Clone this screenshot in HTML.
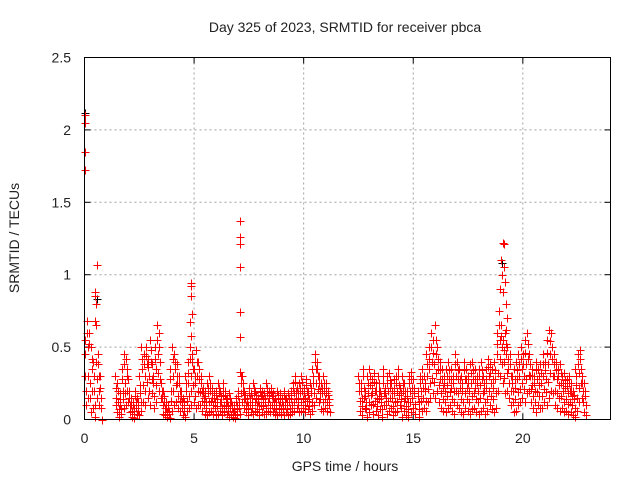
<!DOCTYPE html>
<html><head><meta charset="utf-8"><style>
html,body{margin:0;padding:0;background:#fff}
svg{display:block}
text{font-family:"Liberation Sans",sans-serif;font-size:14px;fill:#222}
</style></head><body>
<svg id="chart" width="640" height="480" viewBox="0 0 640 480">
<text x="345" y="32" text-anchor="middle">Day 325 of 2023, SRMTID for receiver pbca</text>
<text x="345" y="471" text-anchor="middle">GPS time / hours</text>
<text transform="translate(19,238) rotate(-90)" text-anchor="middle">SRMTID / TECUs</text>
<g id="grid"></g>
<g id="ticks"></g>
<g id="marks"></g>
<rect x="84.5" y="57.5" width="526" height="362" fill="none" stroke="#000" stroke-width="1"/>
</svg>
<script>
const xTicks=[0,5,10,15,20];
const yTicks=[0,0.5,1,1.5,2,2.5];
const yTickLabels=["0","0.5","1","1.5","2","2.5"];
const times=[0.0,0.1,0.2,0.3,0.4,0.5,0.6,0.7,
1.4,1.5,1.6,1.7,1.8,1.9,2.0,2.1,2.2,2.3,2.4,2.5,2.6,2.7,2.8,2.9,3.0,3.1,3.2,3.3,3.4,3.5,3.6,3.7,3.8,3.9,4.0,4.1,4.2,4.3,4.4,4.5,4.6,4.7,4.8,4.9,5.0,5.1,5.2,5.3,5.4,5.5,5.6,5.7,5.8,5.9,6.0,6.1,6.2,6.3,6.4,6.5,6.6,6.7,6.8,6.9,7.0,7.1,7.2,7.3,7.4,7.5,7.6,7.7,7.8,7.9,8.0,8.1,8.2,8.3,8.4,8.5,8.6,8.7,8.8,8.9,9.0,9.1,9.2,9.3,9.4,9.5,9.6,9.7,9.8,9.9,10.0,10.1,10.2,10.3,10.4,10.5,10.6,10.7,10.8,10.9,11.0,11.1,
12.5,12.6,12.7,12.8,12.9,13.0,13.1,13.2,13.3,13.4,13.5,13.6,13.7,13.8,13.9,14.0,14.1,14.2,14.3,14.4,14.5,14.6,14.7,14.8,14.9,15.0,
15.2,15.3,15.4,15.5,15.6,15.7,15.8,15.9,16.0,16.1,16.2,16.3,16.4,16.5,16.6,16.7,16.8,16.9,17.0,17.1,17.2,17.3,17.4,17.5,17.6,17.7,17.8,17.9,18.0,18.1,18.2,18.3,18.4,18.5,18.6,18.7,18.8,18.9,19.0,19.1,19.2,19.3,19.4,19.5,19.6,19.7,19.8,19.9,20.0,20.1,20.2,20.3,20.4,20.5,20.6,20.7,20.8,20.9,21.0,21.1,21.2,21.3,21.4,21.5,21.6,21.7,21.8,21.9,22.0,22.1,22.2,22.3,22.4,22.5,22.6,22.7,22.8];
const valuesHigh=[0.55,0.68,0.6,0.5,0.4,0.85,0.45,0.3,
0.3,0.25,0.18,0.35,0.45,0.42,0.28,0.15,0.12,0.2,0.15,0.3,0.5,0.45,0.5,0.42,0.55,0.38,0.5,0.65,0.6,0.25,0.2,0.12,0.1,0.35,0.5,0.45,0.38,0.3,0.2,0.15,0.3,0.4,0.5,0.45,0.35,0.48,0.4,0.3,0.22,0.2,0.25,0.3,0.22,0.18,0.2,0.25,0.2,0.25,0.2,0.15,0.18,0.12,0.1,0.15,0.2,0.33,0.3,0.2,0.15,0.22,0.18,0.25,0.2,0.15,0.22,0.2,0.18,0.25,0.2,0.22,0.18,0.15,0.2,0.18,0.15,0.2,0.15,0.18,0.2,0.25,0.3,0.22,0.25,0.3,0.22,0.28,0.2,0.25,0.35,0.45,0.4,0.3,0.25,0.3,0.25,0.2,
0.3,0.25,0.35,0.2,0.3,0.35,0.28,0.32,0.25,0.3,0.2,0.35,0.22,0.3,0.32,0.25,0.28,0.3,0.35,0.22,0.3,0.25,0.2,0.3,0.33,0.28,
0.2,0.3,0.35,0.3,0.45,0.5,0.6,0.55,0.65,0.5,0.4,0.35,0.3,0.35,0.4,0.35,0.3,0.45,0.4,0.35,0.3,0.4,0.35,0.3,0.38,0.4,0.35,0.3,0.35,0.4,0.3,0.35,0.42,0.38,0.35,0.4,0.6,0.75,0.65,0.55,0.6,0.5,0.45,0.3,0.35,0.4,0.45,0.5,0.45,0.55,0.6,0.45,0.35,0.3,0.4,0.35,0.38,0.45,0.4,0.55,0.62,0.6,0.45,0.4,0.35,0.38,0.3,0.32,0.28,0.3,0.25,0.2,0.35,0.45,0.48,0.3,0.25];
const valuesUpperMid=[0.45,0.6,0.52,0.42,0.3,0.65,0.38,0.22,
0.22,0.2,0.14,0.28,0.38,0.35,0.2,0.12,0.1,0.16,0.12,0.24,0.42,0.38,0.44,0.36,0.48,0.3,0.42,0.55,0.5,0.2,0.16,0.1,0.08,0.28,0.42,0.4,0.3,0.25,0.16,0.12,0.25,0.32,0.42,0.4,0.3,0.4,0.35,0.25,0.18,0.16,0.22,0.25,0.18,0.15,0.17,0.22,0.16,0.2,0.17,0.12,0.15,0.1,0.08,0.12,0.16,0.3,0.25,0.17,0.12,0.18,0.15,0.22,0.17,0.12,0.19,0.17,0.15,0.22,0.17,0.19,0.15,0.12,0.17,0.15,0.12,0.17,0.12,0.15,0.17,0.22,0.26,0.18,0.22,0.26,0.18,0.24,0.17,0.22,0.3,0.4,0.35,0.25,0.22,0.25,0.22,0.17,
0.25,0.2,0.3,0.16,0.25,0.3,0.22,0.26,0.2,0.25,0.16,0.3,0.18,0.25,0.27,0.2,0.22,0.25,0.3,0.18,0.25,0.2,0.16,0.25,0.28,0.22,
0.16,0.25,0.28,0.25,0.38,0.42,0.5,0.46,0.55,0.42,0.34,0.28,0.25,0.3,0.34,0.28,0.25,0.38,0.34,0.28,0.25,0.34,0.28,0.25,0.32,0.34,0.28,0.25,0.3,0.34,0.25,0.28,0.36,0.32,0.28,0.34,0.52,0.65,0.58,0.48,0.52,0.42,0.38,0.25,0.28,0.34,0.38,0.42,0.38,0.46,0.52,0.38,0.3,0.25,0.34,0.3,0.32,0.38,0.34,0.46,0.54,0.5,0.38,0.34,0.3,0.32,0.25,0.27,0.23,0.25,0.2,0.17,0.3,0.38,0.42,0.25,0.2];
const valuesMid=[0.3,0.5,0.25,0.35,0.2,0.4,0.3,0.15,
0.15,0.12,0.1,0.2,0.25,0.3,0.15,0.1,0.08,0.12,0.1,0.18,0.35,0.3,0.38,0.3,0.4,0.25,0.35,0.45,0.4,0.15,0.12,0.08,0.06,0.2,0.3,0.35,0.25,0.2,0.12,0.1,0.2,0.25,0.3,0.35,0.25,0.3,0.28,0.2,0.15,0.12,0.18,0.2,0.15,0.12,0.14,0.18,0.12,0.16,0.14,0.1,0.12,0.08,0.06,0.1,0.12,0.25,0.2,0.14,0.1,0.15,0.12,0.18,0.14,0.1,0.16,0.14,0.12,0.18,0.15,0.16,0.12,0.1,0.14,0.12,0.1,0.14,0.1,0.12,0.14,0.18,0.2,0.15,0.18,0.2,0.15,0.2,0.14,0.18,0.25,0.35,0.3,0.2,0.18,0.2,0.18,0.14,
0.2,0.15,0.22,0.12,0.18,0.24,0.18,0.2,0.15,0.2,0.12,0.25,0.15,0.2,0.22,0.15,0.18,0.2,0.24,0.14,0.2,0.15,0.12,0.2,0.22,0.18,
0.12,0.2,0.22,0.2,0.3,0.35,0.4,0.38,0.45,0.35,0.28,0.22,0.2,0.24,0.28,0.22,0.2,0.3,0.28,0.22,0.2,0.28,0.22,0.2,0.25,0.28,0.22,0.2,0.24,0.28,0.2,0.22,0.3,0.25,0.22,0.28,0.45,0.55,0.5,0.4,0.45,0.35,0.3,0.2,0.22,0.28,0.3,0.35,0.3,0.38,0.42,0.3,0.24,0.2,0.28,0.24,0.25,0.3,0.28,0.38,0.45,0.42,0.3,0.28,0.24,0.25,0.2,0.22,0.18,0.2,0.16,0.14,0.24,0.32,0.35,0.2,0.16];
const valuesLowMid=[0.2,0.3,0.15,0.2,0.1,0.28,0.2,0.08,
0.1,0.07,0.07,0.14,0.18,0.2,0.1,0.06,0.04,0.08,0.06,0.12,0.24,0.2,0.26,0.2,0.28,0.16,0.24,0.32,0.28,0.1,0.08,0.05,0.04,0.13,0.2,0.24,0.16,0.13,0.08,0.06,0.13,0.16,0.2,0.24,0.16,0.2,0.19,0.13,0.1,0.08,0.12,0.13,0.1,0.08,0.09,0.12,0.08,0.1,0.09,0.06,0.08,0.05,0.04,0.07,0.08,0.18,0.14,0.1,0.07,0.1,0.08,0.12,0.1,0.07,0.1,0.09,0.08,0.12,0.1,0.1,0.08,0.07,0.1,0.08,0.07,0.1,0.07,0.08,0.1,0.12,0.14,0.1,0.12,0.14,0.1,0.13,0.09,0.12,0.18,0.25,0.21,0.14,0.12,0.14,0.12,0.1,
0.13,0.09,0.15,0.07,0.12,0.17,0.11,0.13,0.09,0.14,0.07,0.18,0.1,0.13,0.15,0.09,0.12,0.13,0.17,0.08,0.13,0.09,0.07,0.12,0.15,0.11,
0.07,0.13,0.15,0.13,0.21,0.25,0.29,0.26,0.32,0.24,0.18,0.14,0.12,0.16,0.19,0.14,0.12,0.2,0.18,0.14,0.12,0.18,0.14,0.12,0.16,0.18,0.14,0.12,0.15,0.18,0.12,0.14,0.2,0.16,0.14,0.18,0.32,0.42,0.38,0.29,0.32,0.25,0.2,0.12,0.14,0.19,0.21,0.25,0.21,0.28,0.31,0.21,0.16,0.12,0.19,0.16,0.16,0.21,0.19,0.26,0.32,0.3,0.2,0.18,0.15,0.16,0.12,0.14,0.11,0.12,0.1,0.08,0.15,0.22,0.25,0.12,0.1];
const valuesLow=[0.1,0.15,0.05,0.08,0.02,0.15,0.1,0.0,
0.05,0.02,0.04,0.08,0.1,0.12,0.05,0.02,0.01,0.04,0.03,0.06,0.12,0.1,0.15,0.1,0.18,0.08,0.12,0.2,0.15,0.04,0.03,0.02,0.01,0.06,0.1,0.12,0.08,0.06,0.03,0.02,0.06,0.08,0.1,0.12,0.08,0.1,0.1,0.06,0.04,0.03,0.05,0.06,0.04,0.03,0.04,0.06,0.03,0.05,0.04,0.02,0.03,0.02,0.01,0.03,0.04,0.12,0.08,0.05,0.03,0.05,0.04,0.06,0.05,0.03,0.05,0.04,0.04,0.06,0.05,0.05,0.04,0.03,0.05,0.04,0.03,0.05,0.03,0.04,0.05,0.06,0.08,0.05,0.06,0.08,0.05,0.07,0.04,0.06,0.1,0.15,0.12,0.07,0.06,0.08,0.06,0.05,
0.06,0.03,0.08,0.02,0.05,0.1,0.04,0.06,0.03,0.07,0.02,0.1,0.04,0.06,0.08,0.03,0.05,0.06,0.1,0.02,0.06,0.03,0.02,0.05,0.08,0.04,
0.02,0.06,0.08,0.06,0.12,0.15,0.18,0.15,0.2,0.12,0.08,0.06,0.05,0.08,0.1,0.06,0.04,0.1,0.08,0.05,0.04,0.08,0.06,0.04,0.07,0.08,0.05,0.04,0.06,0.08,0.04,0.06,0.1,0.07,0.05,0.08,0.2,0.3,0.25,0.18,0.2,0.15,0.1,0.05,0.06,0.1,0.12,0.15,0.12,0.18,0.2,0.12,0.08,0.05,0.1,0.08,0.08,0.12,0.1,0.15,0.2,0.18,0.1,0.08,0.06,0.08,0.05,0.06,0.04,0.05,0.03,0.02,0.06,0.12,0.15,0.05,0.03];
const spikeTimes=[0.02,0.02,0.02,0.02,0.55,0.5,0.52,0.48,4.85,4.85,4.87,4.9,4.83,4.88,7.1,7.1,7.1,7.08,7.1,7.1,18.95,19.0,19.05,19.1,19.12,19.15,19.2,19.25,19.3,19.1,19.22];
const spikeValues=[2.1,2.05,1.85,1.72,1.07,0.88,0.8,0.68,0.94,0.92,0.85,0.73,0.67,0.58,1.37,1.26,1.21,1.05,0.74,0.57,0.9,1.1,1.0,1.22,1.21,1.05,0.95,0.8,0.7,0.88,0.62];
const blackTimes=[0.02,0.02,7.1,7.08,4.9,0.55,19.05];
const blackValues=[2.12,1.72,1.37,1.05,0.73,0.83,1.08];

const X0=84.5,X1=610.5,Y0=419.5,Y1=57.5;
const xs=t=>X0+(t/24)*(X1-X0);
const ys=v=>Y0-(v/2.5)*(Y0-Y1);
const NS="http://www.w3.org/2000/svg";
const grid=document.getElementById('grid'),ticks=document.getElementById('ticks'),marks=document.getElementById('marks');
function mk(tag,attrs,parent){const e=document.createElementNS(NS,tag);for(const k in attrs)e.setAttribute(k,attrs[k]);parent.appendChild(e);return e;}
xTicks.forEach(t=>{
  const x=xs(t);
  if(t>0){const g=mk('line',{x1:x,x2:x,y1:Y0,y2:Y1,stroke:'#a0a0a0','stroke-dasharray':'2,3'},grid);
  
  }
  const a=mk('line',{x1:x,x2:x,y1:Y0,y2:Y0-6,stroke:'#000'},ticks);
  
  
  const b=mk('line',{x1:x,x2:x,y1:Y1,y2:Y1+6,stroke:'#000'},ticks);
  
  
  const l=mk('text',{x:x,y:443,'text-anchor':'middle'},ticks);l.textContent=String(t);
  
  
});
yTicks.forEach((v,i)=>{
  const y=ys(v);
  if(v>0&&v<2.5){const g=mk('line',{x1:X0,x2:X1,y1:y,y2:y,stroke:'#a0a0a0','stroke-dasharray':'2,3'},grid);
  
  }
  const a=mk('line',{x1:X0,x2:X0+6,y1:y,y2:y,stroke:'#000'},ticks);
  
  
  const b=mk('line',{x1:X1,x2:X1-6,y1:y,y2:y,stroke:'#000'},ticks);
  
  
  const l=mk('text',{x:71,y:y+5,'text-anchor':'end'},ticks);l.textContent=yTickLabels[i];
  
  
});
function plus(t,v,color,name){
  if(typeof v!=='number'||isNaN(v))return;
  const x=Math.round(xs(t))+0.5,y=Math.round(ys(v))+0.5;
  const p=mk('path',{d:`M${x-4} ${y}H${x+4}M${x} ${y-4}V${y+4}`,stroke:color,'stroke-width':1,fill:'none'},marks);
  
  
}
blackTimes.forEach((t,i)=>plus(t,blackValues[i],'#000','black-point'));
times.forEach((t,i)=>{
  plus(t,valuesHigh[i],'#ff0000','red-point');
  plus(t+0.02,valuesUpperMid[i],'#ff0000','red-point');
  plus(t+0.04,valuesMid[i],'#ff0000','red-point');
  plus(t+0.06,valuesLowMid[i],'#ff0000','red-point');
  plus(t+0.08,valuesLow[i],'#ff0000','red-point');
});
spikeTimes.forEach((t,i)=>plus(t,spikeValues[i],'#ff0000','red-spike-point'));
</script>
</body></html>
